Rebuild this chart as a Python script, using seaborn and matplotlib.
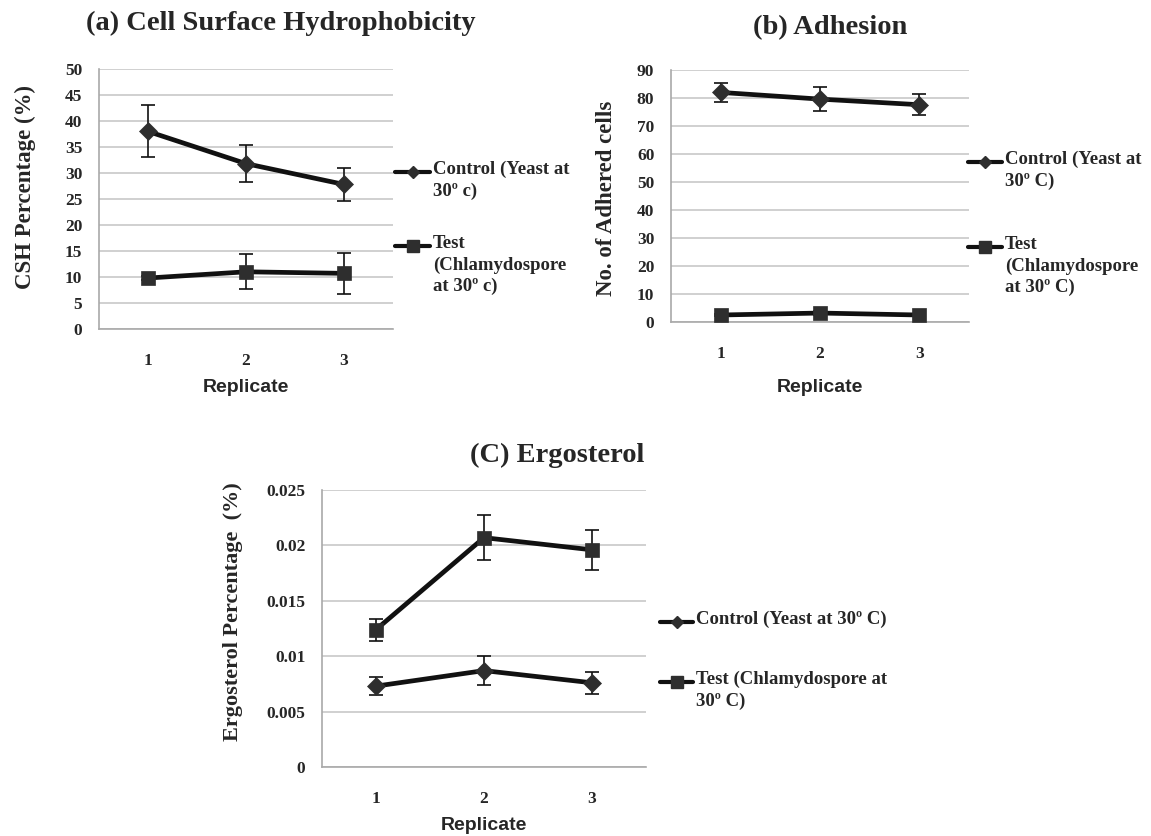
import numpy as np
import pandas as pd
import seaborn as sns
import matplotlib
matplotlib.use('Agg')
import matplotlib.pyplot as plt
from matplotlib.lines import Line2D
from matplotlib.ticker import FuncFormatter

# data
replicates = [1, 2, 3]

csh_control = [38.0, 31.8, 27.8]
csh_control_err = [5.0, 3.6, 3.1]
csh_test = [9.8, 11.0, 10.7]
csh_test_err = [0.3, 3.4, 4.0]

adh_control = [82.0, 79.6, 77.6]
adh_control_err = [3.5, 4.4, 3.8]
adh_test = [2.5, 3.2, 2.5]
adh_test_err = [0.5, 0.6, 0.5]

erg_control = [0.0073, 0.0087, 0.0076]
erg_control_err = [0.0008, 0.0013, 0.0010]
erg_test = [0.0124, 0.0207, 0.0196]
erg_test_err = [0.0010, 0.0020, 0.0018]

sns.set_style('white')
plt.rcParams['font.family'] = ['Liberation Serif', 'DejaVu Serif']

W, H = 1151, 836
def fx(x):
    return x / W
def fy(y):
    return 1 - y / H

LINE = '#111111'
MARK = '#2e2e2e'
GRID = '#c4c4c4'

fig = plt.figure(figsize=(W / 100, H / 100), dpi=100)


def panel(box, ymax, ystep, control, control_err, test, test_err):
    left, right, top, bottom = box
    ax = fig.add_axes([fx(left), fy(bottom), fx(right) - fx(left), (bottom - top) / H])
    for vals, errs, mk, ms in [(control, control_err, 'D', 9), (test, test_err, 's', 10.5)]:
        ax.errorbar(replicates, vals, yerr=errs, fmt='none', ecolor='#111111',
                    elinewidth=1.2, capsize=5, capthick=1.2, zorder=2)
        sns.lineplot(x=replicates, y=vals, ax=ax, color=LINE, linewidth=3.4,
                     marker=mk, markersize=ms, markerfacecolor=MARK,
                     markeredgecolor=MARK, markeredgewidth=0.5, zorder=3)
    ax.set_xlim(0.5, 3.5)
    ax.set_ylim(0, ymax)
    ax.set_xticks(replicates)
    ax.set_yticks(np.arange(0, ymax + ystep / 2, ystep))
    ax.yaxis.set_major_formatter(FuncFormatter(lambda v, p: '{:g}'.format(round(v, 6))))
    ax.grid(axis='y', color=GRID, linewidth=1.1)
    ax.grid(axis='x', visible=False)
    for s in ['top', 'right']:
        ax.spines[s].set_visible(False)
    for s in ['left', 'bottom']:
        ax.spines[s].set_color('#a9a9a9')
        ax.spines[s].set_linewidth(1.2)
    ax.tick_params(axis='x', length=0, pad=17, labelsize=12.5)
    ax.tick_params(axis='y', length=0, pad=12, labelsize=12.5)
    for lab in ax.get_xticklabels() + ax.get_yticklabels():
        lab.set_fontweight('bold')
    ax.set_xlabel('')
    ax.set_ylabel('')
    return ax


def legend_entry(x0, x1, y, marker, ms, text):
    fig.add_artist(Line2D([fx(x0), fx(x1)], [fy(y), fy(y)], transform=fig.transFigure,
                          color=LINE, linewidth=3.0))
    fig.add_artist(Line2D([fx((x0 + x1) / 2)], [fy(y)], transform=fig.transFigure,
                          marker=marker, markersize=ms, color=MARK, linestyle='none'))
    fig.text(fx(x1 + 3), fy(y - 11), text, ha='left', va='top', fontsize=13.5,
             fontweight='bold', linespacing=1.32)


# (a) cell surface hydrophobicity
panel((99, 393, 69, 329), 50, 5, csh_control, csh_control_err, csh_test, csh_test_err)
fig.text(fx(281), fy(23), '(a) Cell Surface Hydrophobicity', ha='center', va='center',
         fontsize=20.5, fontweight='bold')
fig.text(fx(25), fy(187), 'CSH Percentage (%)', rotation=90, ha='center', va='center',
         fontsize=16.5, fontweight='bold')
fig.text(fx(246), fy(387), 'Replicate', ha='center', va='center', fontsize=14,
         fontweight='bold', family='Liberation Sans')
legend_entry(395, 430, 172, 'D', 6, 'Control (Yeast at\n30º c)')
legend_entry(395, 430, 246, 's', 8, 'Test\n(Chlamydospore\nat 30º c)')

# (b) adhesion
panel((671, 969, 70, 322), 90, 10, adh_control, adh_control_err, adh_test, adh_test_err)
fig.text(fx(830), fy(28), '(b) Adhesion', ha='center', va='center',
         fontsize=20.5, fontweight='bold')
fig.text(fx(607), fy(198), 'No. of Adhered cells', rotation=90, ha='center', va='center',
         fontsize=16.5, fontweight='bold')
fig.text(fx(820), fy(387), 'Replicate', ha='center', va='center', fontsize=14,
         fontweight='bold', family='Liberation Sans')
legend_entry(968, 1002, 162, 'D', 6, 'Control (Yeast at\n30º C)')
legend_entry(968, 1002, 247, 's', 8, 'Test\n(Chlamydospore\nat 30º C)')

# (C) ergosterol
panel((322, 646, 490, 767), 0.025, 0.005, erg_control, erg_control_err, erg_test, erg_test_err)
fig.text(fx(557), fy(455), '(C) Ergosterol', ha='center', va='center',
         fontsize=20.5, fontweight='bold')
fig.text(fx(233), fy(612), 'Ergosterol Percentage  (%)', rotation=90, ha='center',
         va='center', fontsize=16, fontweight='bold')
fig.text(fx(484), fy(825), 'Replicate', ha='center', va='center', fontsize=14,
         fontweight='bold', family='Liberation Sans')
legend_entry(660, 693, 622, 'D', 6, 'Control (Yeast at 30º C)')
legend_entry(660, 693, 682, 's', 8, 'Test (Chlamydospore at\n30º C)')

fig.savefig('out.png', dpi=100)
